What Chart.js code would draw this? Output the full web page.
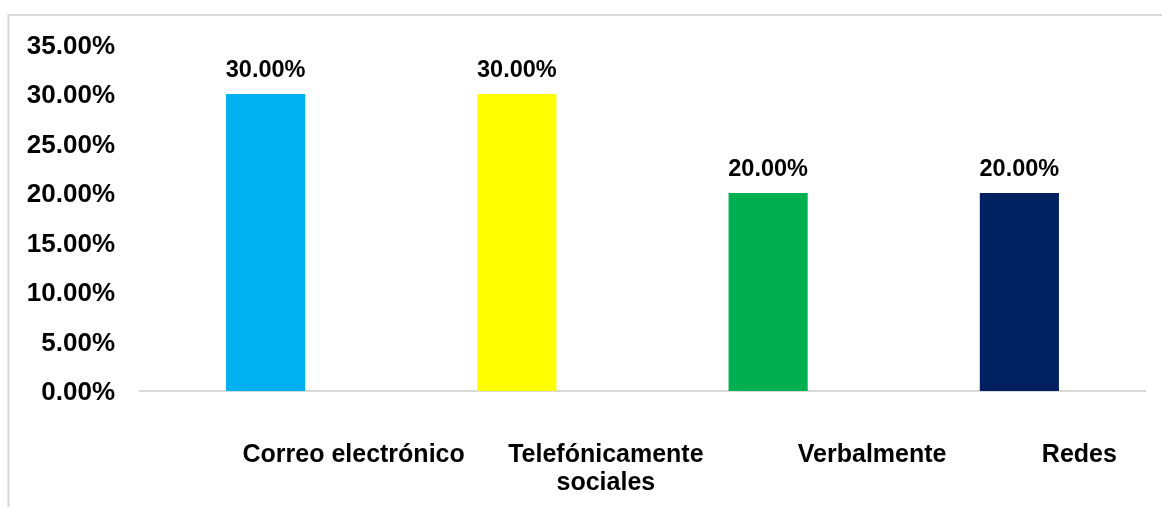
<!DOCTYPE html>
<html lang="es">
<head>
<meta charset="utf-8">
<title>Medios de comunicación</title>
<script src="https://cdn.jsdelivr.net/npm/chart.js@4.4.1/dist/chart.umd.min.js"></script>
<style>
  html, body { margin: 0; padding: 0; background: #fff; }
  #wrap { width: 1162px; height: 507px; position: relative; }
</style>
</head>
<body>
<div id="wrap"><canvas id="chart"></canvas></div>
<script>
// category labels (one entry per line of text under each bar)
const categories = [
  ["Correo electrónico"],
  ["Telefónicamente", "sociales"],
  ["Verbalmente"],
  ["Redes"],
];
const values = [30, 30, 20, 20]; // percent
const barColors = ["#00B0F0", "#FFFF00", "#00B050", "#002060"];
const yTicks = [0, 5, 10, 15, 20, 25, 30, 35];

const FONT = 'Arial, "Liberation Sans", sans-serif';

// light grey frame around the chart
const frame = {
  id: "frame",
  beforeDraw(chart) {
    const { ctx, width, height } = chart;
    ctx.save();
    ctx.strokeStyle = "#d9d9d9";
    ctx.lineWidth = 2;
    ctx.strokeRect(8.5, 15, width + 20, height + 20);
    ctx.restore();
  },
};

// value text above each bar
const valueLabels = {
  id: "valueLabels",
  afterDatasetsDraw(chart) {
    const { ctx } = chart;
    const meta = chart.getDatasetMeta(0);
    ctx.save();
    ctx.font = "bold 23.5px " + FONT;
    ctx.fillStyle = "#000";
    ctx.textAlign = "center";
    ctx.textBaseline = "alphabetic";
    meta.data.forEach((bar, i) => {
      ctx.fillText(values[i].toFixed(2) + "%", bar.x, bar.y - 17);
    });
    ctx.restore();
  },
};

// category names drawn under the axis, nudged right like the original sheet
const categoryLabels = {
  id: "categoryLabels",
  afterDraw(chart, args, opts) {
    const { ctx, chartArea } = chart;
    const xs = chart.scales.x;
    ctx.save();
    ctx.font = "bold 25px " + FONT;
    ctx.fillStyle = "#000";
    ctx.textAlign = "center";
    ctx.textBaseline = "middle";
    categories.forEach((lines, i) => {
      const x = xs.getPixelForValue(i) + opts.shift[i];
      lines.forEach((line, j) => {
        ctx.fillText(line, x, chartArea.bottom + 64 + j * 28);
      });
    });
    ctx.restore();
  },
};

new Chart(document.getElementById("chart"), {
  type: "bar",
  data: {
    labels: categories,
    datasets: [
      {
        data: values,
        backgroundColor: barColors,
        borderWidth: 0,
        categoryPercentage: 1,
        barPercentage: 0.315,
      },
    ],
  },
  options: {
    responsive: true,
    maintainAspectRatio: false,
    animation: false,
    layout: { padding: { top: 44.5, right: 17, bottom: 0, left: 0 } },
    plugins: {
      legend: { display: false },
      tooltip: { enabled: false },
      categoryLabels: { shift: [88, 89, 104, 60] },
    },
    scales: {
      x: {
        grid: { display: false },
        border: { display: true, color: "#d9d9d9", width: 2 },
        ticks: { display: false },
        afterFit(scale) { scale.height = 116; },
      },
      y: {
        min: 0,
        max: 35,
        grid: { display: false, drawTicks: false },
        border: { display: false },
        afterBuildTicks(scale) {
          scale.ticks = yTicks.map((v) => ({ value: v }));
        },
        afterFit(scale) { scale.width = 140; },
        ticks: {
          padding: 25,
          labelOffset: 2,
          color: "#000",
          font: { family: FONT, size: 26, weight: "bold" },
          callback: (v) => v.toFixed(2) + "%",
        },
      },
    },
  },
  plugins: [frame, valueLabels, categoryLabels],
});
</script>
</body>
</html>
